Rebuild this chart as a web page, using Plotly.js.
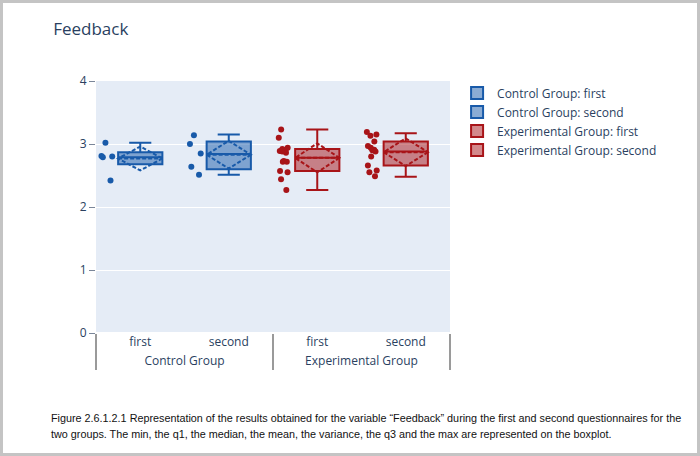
<!DOCTYPE html>
<html>
<head>
<meta charset="utf-8">
<script src="https://cdn.plot.ly/plotly-3.0.1.min.js"></script>
<style>
  html, body { margin: 0; padding: 0; background: #fff; }
  #frame { position: absolute; left: 0; top: 0; width: 700px; height: 456px; box-sizing: border-box; border: 3px solid #c4c4c4; background: #fff; }
  #chart { position: absolute; left: 0; top: 0; width: 700px; height: 456px; }
  #caption { position: absolute; left: 51px; top: 410px; width: 640px; font-family: "Liberation Sans", Arial, sans-serif; font-size: 10.8px; line-height: 16px; color: #111; }
</style>
</head>
<body>
<div id="frame"></div>
<div id="chart"></div>
<div id="caption">Figure 2.6.1.2.1 Representation of the results obtained for the variable “Feedback” during the first and second questionnaires for the two groups. The min, the q1, the median, the mean, the variance, the q3 and the max are represented on the boxplot.</div>
<script>
// ---- data ----
var groups = ["Control Group", "Control Group", "Experimental Group", "Experimental Group"];
var rounds = ["first", "second", "first", "second"];
var traceNames = ["Control Group: first", "Control Group: second", "Experimental Group: first", "Experimental Group: second"];

var q1Vals = [2.68, 2.60, 2.57, 2.66];
var medianVals = [2.79, 2.84, 2.78, 2.88];
var q3Vals = [2.87, 3.04, 2.92, 3.04];
var lowerFenceVals = [2.68, 2.51, 2.27, 2.48];
var upperFenceVals = [3.02, 3.15, 3.23, 3.17];
var meanVals = [2.77, 2.83, 2.78, 2.87];
var sdVals = [0.19, 0.22, 0.23, 0.22];

var controlFirstPts = [3.02, 2.81, 2.79, 2.80, 2.42];
var controlSecondPts = [3.14, 3.00, 2.85, 2.64, 2.51];
var expFirstPts = [3.23, 3.10, 2.94, 2.92, 2.90, 2.89, 2.88, 2.86, 2.73, 2.72, 2.72, 2.57, 2.55, 2.44, 2.27];
var expSecondPts = [3.19, 3.15, 3.13, 3.04, 2.97, 2.94, 2.91, 2.90, 2.88, 2.80, 2.66, 2.58, 2.55, 2.49];
var samplePts = [controlFirstPts, controlSecondPts, expFirstPts, expSecondPts];

var yTickVals = [0, 1, 2, 3, 4];

// ---- styles ----
var lineColors = ["rgb(24,90,169)", "rgb(24,90,169)", "rgb(168,20,24)", "rgb(168,20,24)"];
var fillColors = ["rgba(24,90,169,0.5)", "rgba(24,90,169,0.5)", "rgba(168,20,24,0.5)", "rgba(168,20,24,0.5)"];

var traces = [];
for (var i = 0; i < groups.length; i++) {
  traces.push({
    type: "box",
    name: traceNames[i],
    orientation: "v",
    x: [[groups[i]], [rounds[i]]],
    y: [samplePts[i]],
    q1: [q1Vals[i]],
    median: [medianVals[i]],
    q3: [q3Vals[i]],
    lowerfence: [lowerFenceVals[i]],
    upperfence: [upperFenceVals[i]],
    mean: [meanVals[i]],
    sd: [sdVals[i]],
    boxmean: "sd",
    boxpoints: "all",
    jitter: 0.3,
    pointpos: -1.5,
    width: 0.5,
    line: { color: lineColors[i], width: 2 },
    fillcolor: fillColors[i],
    marker: { color: lineColors[i], size: 6 }
  });
}

var layout = {
  width: 700,
  height: 456,
  paper_bgcolor: "rgba(0,0,0,0)",
  plot_bgcolor: "#e5ecf6",
  font: { family: '"Open Sans", verdana, arial, sans-serif', size: 12, color: "#2a3f5f" },
  title: { text: "Feedback", x: 0.076, xanchor: "left", y: 0.937, yanchor: "middle", font: { size: 17, color: "#2a3f5f" } },
  margin: { l: 96, r: 250, t: 81, b: 123, pad: 0 },
  showlegend: true,
  legend: { x: 1.02, y: 1.01, xanchor: "left", yanchor: "top", font: { size: 12 }, bgcolor: "rgba(0,0,0,0)" },
  boxmode: "overlay",
  xaxis: {
    type: "multicategory",
    autorange: false,
    range: [-0.5, 3.5],
    showgrid: false,
    showdividers: true,
    dividercolor: "#9a9a9a",
    dividerwidth: 2,
    tickfont: { size: 12 },
    zeroline: false
  },
  yaxis: {
    range: [0, 4],
    tickvals: yTickVals,
    ticks: "outside",
    ticklen: 6,
    tickcolor: "#7a8699",
    gridcolor: "#ffffff",
    gridwidth: 1,
    zeroline: true,
    zerolinecolor: "#ffffff",
    zerolinewidth: 2,
    tickfont: { size: 12 }
  }
};

Plotly.newPlot("chart", traces, layout, { displayModeBar: false, staticPlot: true });
</script>
</body>
</html>
